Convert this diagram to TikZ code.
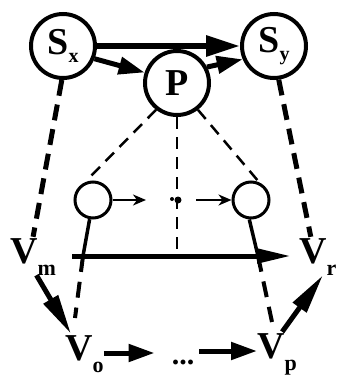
\documentclass[tikz,border=0pt]{standalone}
\usepackage{fontspec}
\setmainfont{Liberation Serif}
\usetikzlibrary{arrows.meta}
\newcommand{\Vsub}[1]{\raisebox{-12pt}{\fontsize{22}{22}\selectfont #1}}
\newcommand{\Ssub}[1]{\raisebox{-8pt}{\fontsize{20}{20}\selectfont #1}}
\begin{document}
\begin{tikzpicture}[x=1pt,y=-1pt,
 bigc/.style={circle,draw,line width=4pt,minimum size=64pt,inner sep=0pt,font=\fontsize{38}{40}\selectfont\bfseries},
 smallc/.style={circle,draw,line width=3pt,minimum size=36pt,inner sep=0pt},
 vlab/.style={inner sep=0pt,text height=26pt,text depth=12pt,anchor=base west,font=\fontsize{38}{40}\selectfont\bfseries},
 toparrow/.style={line width=6pt,-{Triangle[length=34pt,width=20pt]}},
 thickarrow/.style={line width=5pt,-{Triangle[length=26pt,width=17pt]}},
 longarrow/.style={line width=5pt,-{Triangle[length=34pt,width=14pt]}},
 diagarrow/.style={line width=5pt,-{Triangle[length=40pt,width=16pt]}},
 thinarrow/.style={line width=2.5pt,-{Stealth[length=13pt,width=11pt,inset=4pt]}},
 thickdash/.style={line width=5pt,dash pattern=on 16pt off 9pt},
 lowdash/.style={line width=4pt,dash pattern=on 16pt off 10pt},
 thindash/.style={line width=2.5pt,dash pattern=on 12pt off 8pt},
 solidline/.style={line width=3.5pt}]
\useasboundingbox[fill=white] (0,0) rectangle (337,378);
% nodes
\node[bigc] (sx) at (63,46) {S\Ssub{x}};
\node[bigc] (sy) at (274,46) {S\Ssub{y}};
\node[bigc] (p) at (177,83) {P};
\node[smallc] (c1) at (93,200) {};
\node[smallc] (c2) at (251,200) {};
\node[vlab] (vm) at (10,263) {V\Vsub{m}};
\node[vlab] (vr) at (299,263) {V\Vsub{r}};
\node[vlab] (vo) at (65,360) {V\Vsub{o}};
\node[vlab] (vp) at (257,358) {V\Vsub{p}};
\node[anchor=base,inner xsep=5pt,inner ysep=0pt,font=\fontsize{30}{30}\selectfont\bfseries] (vdots) at (183,364) {...};
\coordinate (hl) at (72,256);
\coordinate (h1) at (83,256);
\coordinate (d1) at (75,318);
\coordinate (h2) at (258,256);
\coordinate (d2) at (272,322);
\coordinate (ta1) at (146,200);
\coordinate (ta2) at (196,200);
% top arrows
\draw[toparrow] (sx.east) -- (sy.west);
\draw[thickarrow] (sx.-22) -- (p.162);
\draw[thickarrow] (p.28) -- (sy.203);
% long dashed lines
\draw[thickdash] (sx.-92) -- (vm.north);
\draw[thickdash] (sy.-82) -- (vr.110);
\draw[thindash,shorten >=3pt] (p.232) -- (c1.115);
\draw[thindash,shorten >=3pt] (p.-52) -- (c2.65);
\draw[thindash] (p.south) -- (p.south |- hl);
% small circle arrows and dots
\draw[thinarrow] (c1.east) -- (ta1);
\draw[thinarrow] (ta2) -- (c2.west);
\fill (172,199) circle (2pt);
\fill (178,200) circle (3.5pt);
% horizontal arrow
\draw[longarrow,shorten >=8pt] (hl) -- (vr.west);
% lines from small circles
\draw[solidline] (c1.-100) -- (h1);
\draw[lowdash] (h1) -- (d1);
\draw[solidline] (c2.-95) -- (h2);
\draw[lowdash] (h2) -- (d2);
% bottom arrows
\draw[diagarrow] (vm.-80) -- (vo.125);
\draw[thickarrow,shorten >=12pt] (vo.east) -- (vo.east -| vdots.west);
\draw[thickarrow] (vdots.east |- vp.west) -- (vp.west);
\draw[diagarrow] (vp.75) -- (vr.-75);
\end{tikzpicture}
\end{document}
